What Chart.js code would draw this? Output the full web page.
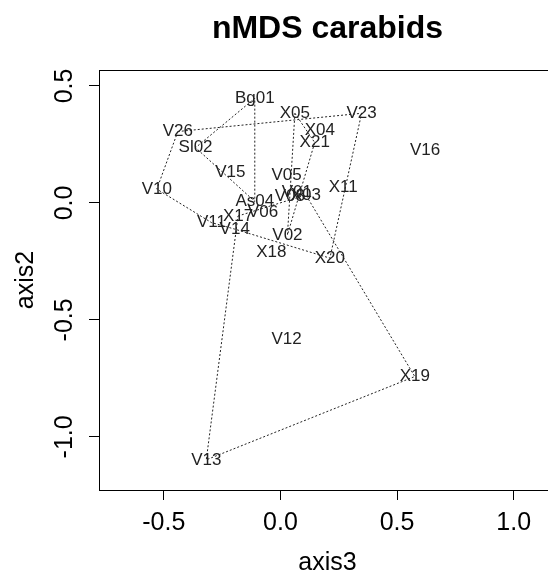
<!DOCTYPE html>
<html>
<head>
<meta charset="utf-8">
<script src="https://cdn.jsdelivr.net/npm/chart.js@4/dist/chart.umd.min.js"></script>
<style>
  html, body { margin: 0; padding: 0; background: #fff; overflow: hidden; width: 548px; height: 580px; }
  canvas { display: block; }
</style>
</head>
<body>
<canvas id="c" width="655" height="580" style="width:655px;height:580px"></canvas>
<script>
// ---- data ----
const siteNames = ['Bg01','X05','V23','V26','X04','X21','Sl02','V15','V05','V10','X11','V08','V01','X03','As04','V06','X17','V11','V14','V02','X18','X20','V16','V12','X19','V13'];
const axis3Values = [-0.110, 0.062, 0.348, -0.440, 0.169, 0.147, -0.364, -0.215, 0.026, -0.530, 0.269, 0.040, 0.070, 0.109, -0.110, -0.075, -0.182, -0.296, -0.196, 0.030, -0.039, 0.212, 0.620, 0.026, 0.576, -0.318];
const axis2Values = [0.447, 0.383, 0.383, 0.305, 0.312, 0.258, 0.236, 0.131, 0.120, 0.059, 0.067, 0.030, 0.047, 0.034, 0.006, -0.041, -0.056, -0.084, -0.112, -0.137, -0.212, -0.236, 0.226, -0.585, -0.742, -1.098];
const hullA = ['Bg01','Sl02','As04'];
const hullB = ['V26','V23','X20','V14','V11','V10'];
const hullC = ['X05','X21','V02'];
const hullD = ['X17','X03','X19','V13'];
const xTickValues = [-0.5, 0, 0.5, 1.0];
const yTickValues = [-1.0, -0.5, 0, 0.5];

const FONT = '"Liberation Sans", Arial, Helvetica, sans-serif';
Chart.defaults.font.family = FONT;
Chart.defaults.color = '#000';

function pt(name) {
  const i = siteNames.indexOf(name);
  return { x: axis3Values[i], y: axis2Values[i] };
}
function hullData(names) {
  const d = names.map(pt);
  d.push(pt(names[0]));
  return d;
}
const hullStyle = { showLine: true, borderColor: '#222', borderWidth: 1, borderDash: [2, 2], pointRadius: 0, fill: false, tension: 0 };

const labelPlugin = {
  id: 'siteLabels',
  beforeDatasetsDraw(chart) {
    const { ctx, scales: { x, y } } = chart;
    ctx.save();
    ctx.font = '17px ' + FONT;
    ctx.fillStyle = '#222';
    ctx.textAlign = 'center';
    ctx.textBaseline = 'middle';
    siteNames.forEach((n, i) => {
      ctx.fillText(n, x.getPixelForValue(axis3Values[i]), y.getPixelForValue(axis2Values[i]));
    });
    ctx.restore();
  }
};
const boxBorder = {
  id: 'boxBorder',
  afterDraw(chart) {
    const { ctx, chartArea: a } = chart;
    ctx.save();
    ctx.strokeStyle = '#000';
    ctx.lineWidth = 1;
    ctx.beginPath();
    ctx.moveTo(a.left, Math.round(a.top) + 0.5);
    ctx.lineTo(a.right, Math.round(a.top) + 0.5);
    ctx.lineTo(a.right, a.bottom);
    ctx.stroke();
    ctx.restore();
  }
};

new Chart(document.getElementById('c'), {
  type: 'scatter',
  data: {
    datasets: [
      Object.assign({ data: hullData(hullA) }, hullStyle),
      Object.assign({ data: hullData(hullB) }, hullStyle),
      Object.assign({ data: hullData(hullC) }, hullStyle),
      Object.assign({ data: hullData(hullD) }, hullStyle),
      { data: siteNames.map(pt), pointRadius: 0, showLine: false }
    ]
  },
  options: {
    responsive: false,
    animation: false,
    devicePixelRatio: 1,
    layout: { padding: 0 },
    plugins: {
      legend: { display: false },
      tooltip: { enabled: false },
      title: {
        display: true,
        text: 'nMDS carabids',
        color: '#000',
        font: { family: FONT, size: 32, weight: 'bold', lineHeight: 1.2 },
        padding: { top: 10, bottom: 21.6 }
      }
    },
    scales: {
      x: {
        type: 'linear',
        min: -0.778, max: 1.1815,
        afterBuildTicks: s => { s.ticks = xTickValues.map(v => ({ value: v })); },
        afterFit: s => { s.height = 90; },
        grid: { display: true, drawOnChartArea: false, drawTicks: true, tickLength: 10, tickColor: '#000', color: '#000' },
        border: { display: true, color: '#000', width: 1 },
        ticks: { font: { size: 25 }, color: '#000', padding: 8, maxRotation: 0, autoSkip: false, callback: v => v.toFixed(1) },
        title: { display: true, text: 'axis3', color: '#000', font: { size: 25 }, padding: { top: 0, bottom: 2 } }
      },
      y: {
        type: 'linear',
        position: 'left',
        min: -1.227, max: 0.568,
        afterBuildTicks: s => { s.ticks = yTickValues.map(v => ({ value: v })); },
        afterFit: s => { s.width = 99; },
        grid: { display: true, drawOnChartArea: false, drawTicks: true, tickLength: 10, tickColor: '#000', color: '#000' },
        border: { display: true, color: '#000', width: 1 },
        ticks: { font: { size: 25 }, color: '#000', padding: 2, minRotation: 90, maxRotation: 90, crossAlign: 'center', autoSkip: false, callback: v => v.toFixed(1) },
        title: { display: true, text: 'axis2', color: '#000', font: { size: 25 }, padding: { top: 11, bottom: 0 } }
      },
      yRight: {
        type: 'linear',
        position: 'right',
        min: -1.227, max: 0.568,
        afterFit: s => { s.width = 99; },
        grid: { display: false },
        border: { display: false },
        ticks: { display: false }
      }
    }
  },
  plugins: [labelPlugin, boxBorder]
});
</script>
</body>
</html>
